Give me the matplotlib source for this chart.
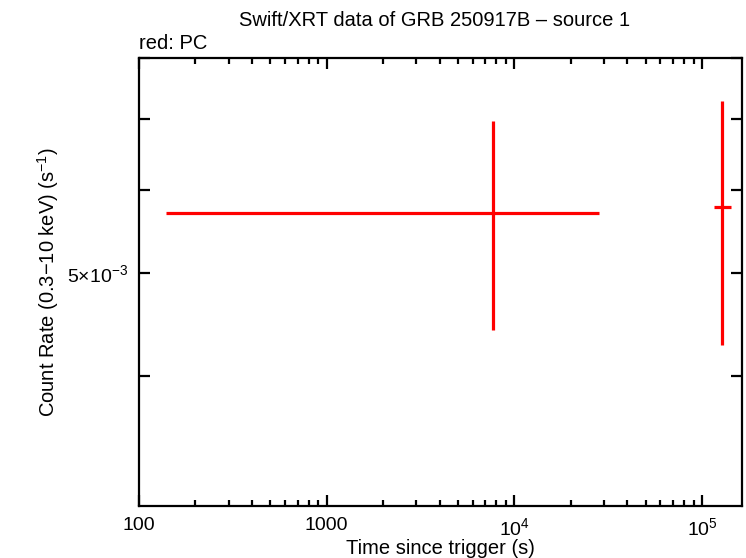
import matplotlib
import matplotlib.pyplot as plt
from matplotlib.ticker import FixedLocator, FixedFormatter, NullFormatter

matplotlib.use("agg")

plt.rcParams["font.family"] = ["Liberation Sans", "DejaVu Sans"]
plt.rcParams["mathtext.fontset"] = "custom"
plt.rcParams["mathtext.rm"] = "Liberation Sans"
plt.rcParams["mathtext.it"] = "Liberation Sans:italic"
plt.rcParams["mathtext.bf"] = "Liberation Sans:bold"

# PC mode data (time in s, rate in counts/s)
t = [7680, 1.28e5]
t_lo = [140, 1.16e5]
t_hi = [28300, 1.43e5]
rate = [5.70e-3, 5.78e-3]
rate_lo = [4.42e-3, 4.28e-3]
rate_hi = [6.98e-3, 7.28e-3]

x_ticks = [100, 1000, 1e4, 1e5]
x_labels = ["100", "1000", r"$\mathrm{10^4}$", r"$\mathrm{10^5}$"]
y_ticks = [5e-3]
y_labels = [r"$\mathrm{5{\times}10^{-3}}$"]

fig = plt.figure(figsize=(7.46, 5.58), dpi=100)
ax = fig.add_axes([0.1863, 0.0932, 0.8083, 0.8028])

xerr = [[a - b for a, b in zip(t, t_lo)], [b - a for a, b in zip(t, t_hi)]]
yerr = [[a - b for a, b in zip(rate, rate_lo)], [b - a for a, b in zip(rate, rate_hi)]]
ax.errorbar(t, rate, xerr=xerr, yerr=yerr, fmt="none", ecolor="red",
            elinewidth=2.3, capsize=0)

ax.set_xscale("log")
ax.set_yscale("log")
ax.set_xlim(100, 1.63e5)
ax.set_ylim(3.01e-3, 8e-3)

ax.xaxis.set_major_locator(FixedLocator(x_ticks))
ax.xaxis.set_major_formatter(FixedFormatter(x_labels))
ax.xaxis.set_minor_formatter(NullFormatter())
ax.yaxis.set_major_locator(FixedLocator(y_ticks))
ax.yaxis.set_major_formatter(FixedFormatter(y_labels))
ax.yaxis.set_minor_locator(FixedLocator([3e-3, 4e-3, 6e-3, 7e-3, 8e-3]))
ax.yaxis.set_minor_formatter(NullFormatter())

for s in ax.spines.values():
    s.set_linewidth(1.6)
ax.tick_params(which="both", direction="in", top=True, right=True,
               width=1.6, labelsize=14, pad=8)
ax.tick_params(which="major", length=8)
ax.tick_params(which="minor", length=4.5)
ax.tick_params(axis="y", which="minor", length=8)

ax.set_xlabel("Time since trigger (s)", fontsize=14.5, labelpad=0)
ax.set_ylabel(r"Count Rate (0.3$-$10 keV) (s$^{-1}$)", fontsize=14.5, labelpad=4)
fig.text(0.5825, 0.964, "Swift/XRT data of GRB 250917B \u2013 source 1",
         ha="center", va="center", fontsize=14.5)
fig.text(0.1863, 0.922, "red: PC", ha="left", va="center", fontsize=14.5)

fig.savefig("out.png", dpi=100)
